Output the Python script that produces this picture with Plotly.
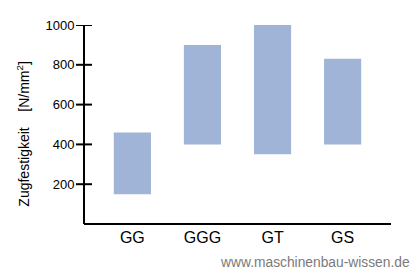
import plotly.graph_objects as go

categories = ["GG", "GGG", "GT", "GS"]
low_values = [150, 400, 350, 400]
high_values = [460, 900, 1000, 830]
y_ticks = [200, 400, 600, 800, 1000]

bar_color = "#9fb4d6"
font_family = "Liberation Sans, Arial, sans-serif"
plot_w = 307  # plot area width in px

fig = go.Figure()
fig.add_trace(go.Bar(
    x=categories,
    y=[h - l for h, l in zip(high_values, low_values)],
    base=low_values,
    marker=dict(color=bar_color, line=dict(width=0)),
    width=0.53,
    hoverinfo="skip",
))

shapes = []
# axis lines
shapes.append(dict(type="line", xref="x domain", yref="y domain", x0=0, x1=0, y0=0, y1=1,
                   line=dict(color="black", width=2)))
shapes.append(dict(type="line", xref="x domain", yref="y domain", x0=0, x1=1, y0=0, y1=0,
                   line=dict(color="black", width=2)))
# cross ticks
for t in y_ticks:
    shapes.append(dict(type="line", xref="x domain", yref="y",
                       x0=-8 / plot_w, x1=8 / plot_w, y0=t, y1=t,
                       line=dict(color="black", width=2)))

fig.update_layout(
    width=420, height=280,
    margin=dict(l=84, r=29, t=25, b=56),
    paper_bgcolor="white", plot_bgcolor="white",
    showlegend=False,
    font=dict(family=font_family, color="black", size=13),
    shapes=shapes,
    xaxis=dict(
        range=[-0.69, 3.69],
        showline=False, ticks="", showgrid=False, zeroline=False,
        tickfont=dict(size=16),
        ticklabelstandoff=2,
    ),
    yaxis=dict(
        range=[0, 1000],
        tickvals=y_ticks,
        showline=False, ticks="outside", ticklen=8, tickcolor="rgba(0,0,0,0)",
        showgrid=False, zeroline=False,
        tickfont=dict(size=13),
        ticklabelstandoff=-2,
    ),
    annotations=[
        dict(
            text="Zugfestigkeit    [N/mm<sup>2</sup>]",
            xref="paper", yref="paper", x=-0.198, y=0.455,
            xanchor="center", yanchor="middle",
            textangle=-90, showarrow=False,
            font=dict(size=14, color="black", family=font_family),
        ),
        dict(
            text="www.maschinenbau-wissen.de",
            xref="paper", yref="paper", x=1.07, y=-0.195,
            xanchor="right", yanchor="middle",
            showarrow=False,
            font=dict(size=13.8, color="#7a7a7a", family=font_family),
        ),
    ],
)

fig.write_html("out.html")
